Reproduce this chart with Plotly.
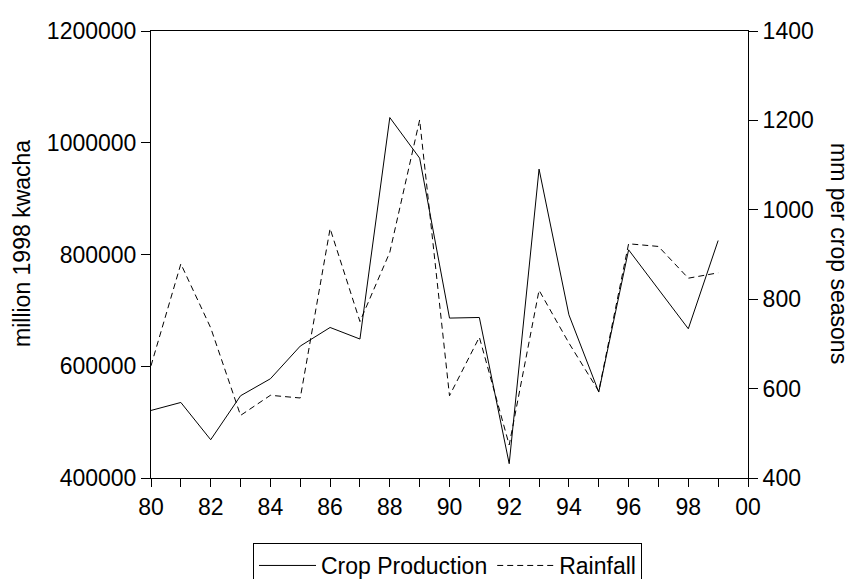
import plotly.graph_objects as go

years = list(range(1980, 2000))
crop_production = [520900, 535200, 468500, 547200, 577600, 636100, 669400, 648700,
                   1045100, 972400, 686200, 687300, 425600, 952800, 692100, 553800,
                   808400, 737000, 667100, 825000]
rainfall = [651, 879, 736, 540, 585, 579, 958, 750, 905, 1201, 584, 715, 474, 820,
            702, 594, 924, 918, 847, 859]

tick_years = list(range(1980, 2001))
tick_labels = [("%02d" % (y % 100)) if y % 2 == 0 else "" for y in tick_years]
left_ticks = [400000, 600000, 800000, 1000000, 1200000]
right_ticks = [400, 600, 800, 1000, 1200, 1400]

FONT = "Liberation Sans, Arial, sans-serif"
FS = 23
OFF = 8  # page body margin offset
W, H = 855 - OFF, 579 - OFF

fig = go.Figure()
fig.add_trace(go.Scatter(x=years, y=crop_production, mode="lines", name="Crop Production",
                         line=dict(color="black", width=1), yaxis="y"))
fig.add_trace(go.Scatter(x=years, y=rainfall, mode="lines", name="Rainfall",
                         line=dict(color="black", width=1, dash="6px,4px"), yaxis="y2"))

fig.update_layout(
    width=W, height=H,
    margin=dict(l=151 - OFF, r=107, t=31 - OFF, b=101, autoexpand=False),
    paper_bgcolor="white", plot_bgcolor="white",
    font=dict(family=FONT, size=FS, color="black"),
    showlegend=True,
    legend=dict(orientation="h", xref="container", yref="container",
                x=(253 - OFF) / W, y=1 - (543 - OFF) / H, xanchor="left", yanchor="top",
                bordercolor="black", borderwidth=1, font=dict(size=FS),
                itemwidth=57, tracegroupgap=0),
    xaxis=dict(range=[1980, 2000], tickmode="array", tickvals=tick_years, ticktext=tick_labels,
               ticks="outside", ticklen=8, tickcolor="black", showgrid=False, zeroline=False,
               showline=True, linecolor="black", linewidth=1, mirror=True, automargin=False,
               tickfont=dict(size=FS)),
    yaxis=dict(range=[400000, 1200000], tickmode="array", tickvals=left_ticks,
               ticktext=[str(v) for v in left_ticks], automargin=False,
               ticks="outside", ticklen=9, tickcolor="black", showgrid=False, zeroline=False,
               showline=True, linecolor="black", linewidth=1, tickfont=dict(size=FS)),
    yaxis2=dict(range=[400, 1400], tickmode="array", tickvals=right_ticks,
                ticktext=[str(v) for v in right_ticks], overlaying="y", side="right",
                automargin=False,
                ticks="outside", ticklen=9, tickcolor="black", showgrid=False, zeroline=False,
                showline=True, linecolor="black", linewidth=1, tickfont=dict(size=FS)),
    annotations=[
        dict(text="million 1998 kwacha", xref="paper", yref="paper", x=(22 - 151) / 597,
             y=(478 - 244) / 447,
             textangle=-90, showarrow=False, font=dict(size=FS), xanchor="center", yanchor="middle"),
        dict(text="mm per crop seasons", xref="paper", yref="paper", x=(839 - 151) / 597,
             y=(478 - 253) / 447,
             textangle=90, showarrow=False, font=dict(size=FS), xanchor="center", yanchor="middle"),
    ],
)

fig.write_html("out.html")
